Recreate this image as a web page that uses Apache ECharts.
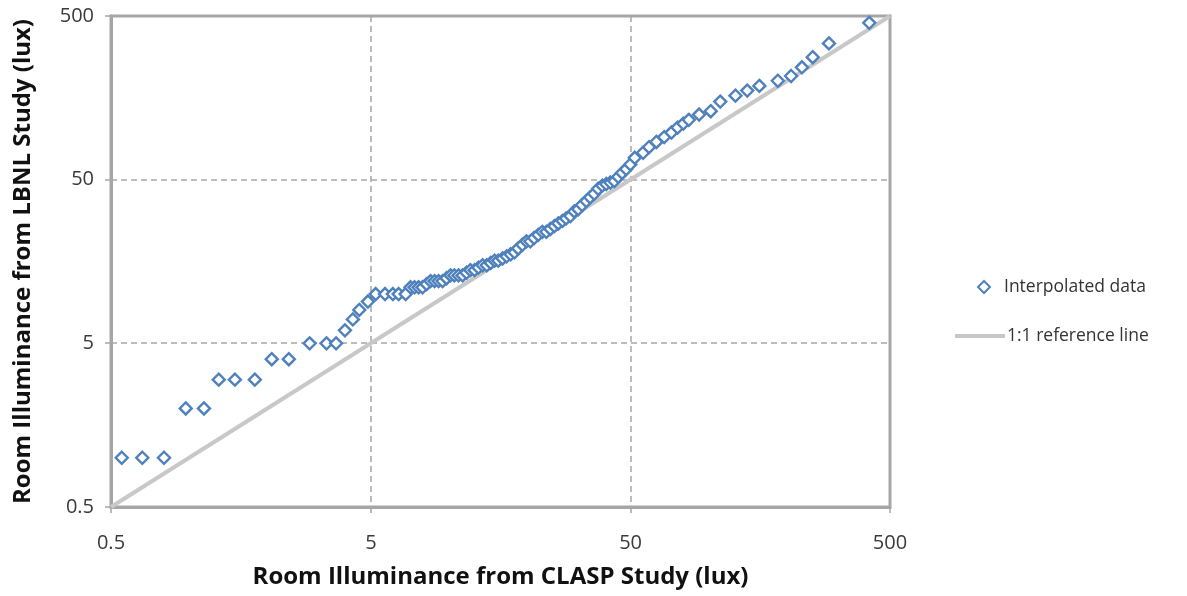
<!DOCTYPE html>
<html>
<head>
<meta charset="utf-8">
<script src="https://cdn.jsdelivr.net/npm/echarts@6/dist/echarts.min.js"></script>
<style>
html,body{margin:0;padding:0;background:#fff;}
#chart{width:1187px;height:596px;}
</style>
</head>
<body>
<div id="chart"></div>
<script>
// CLASP study (x) vs LBNL study (y), room illuminance in lux
const claspLux = [
  0.55,0.66,0.80,0.97,1.14,1.30,1.50,1.79,2.08,2.42,2.91,3.38,3.68,3.98,4.27,4.52,4.88,5.23,5.68,6.09,6.41,6.82,
  7.12,7.38,7.65,7.92,8.21,8.50,8.81,9.13,9.46,9.80,10.15,10.5,10.9,11.3,11.7,12.1,12.56,13.0,13.5,14.0,14.5,15.0,15.5,16.1,16.7,17.3,17.9,18.5,19.2,19.9,20.6,21.3,22.1,22.9,23.75,24.6,25.5,26.4,27.4,28.3,29.4,30.4,31.5,32.6,33.85,35.0,36.3,37.6,39.0,40.4,41.9,43.4,44.9,46.5,48.2,
  50,52,56,59,63,67.5,72,76,80,84,92,102,111,127,141,157,185,208,229,252,291,416
];
const lbnlLux = [
  1,1,1,2,2,3,3,3,4,4,5,5,5,6,7,8,9,10,10,10,10,10,
  11,11,11,11,11.5,12,12,12,12,12.5,13,13,13,13,13.5,14,14,14.5,15,15,15.5,16,16,16.5,17,17.5,18,19,20,21,21,22,23,24,24,25,26,27,28,29,30,32,33,35,37,39,41,44,46,47,48,49,52,55,58,
  62,68,73,79,85,91,97,104,110,116,125,131,150,163,175,187,201,215,243,280,340,454
];
const referenceLine = [0.5, 500];
const axisTicks = [0.5, 5, 50, 500];

const scatterData = claspLux.map((x, i) => [x, lbnlLux[i]]);
const refData = referenceLine.map(v => [v, v]);

const FONT = '"Open Sans", "Noto Sans", sans-serif';
const chart = echarts.init(document.getElementById('chart'), null, {renderer: 'canvas'});

function fmt(v) {
  return v >= 1 ? String(Math.round(v)) : String(Math.round(v * 10) / 10);
}

function axisCommon(name, isX) {
  return {
    type: 'log',
    logBase: 10,
    min: axisTicks[0],
    max: axisTicks[axisTicks.length - 1],
    interval: 1,
    name: name,
    nameLocation: 'middle',
    nameGap: isX ? 58 : 76,
    nameTextStyle: {fontFamily: FONT, fontSize: 24, fontWeight: 'bold', color: '#111'},
    axisLine: {show: true, lineStyle: {color: '#a6a6a6', width: 3}},
    axisTick: {show: true, length: 6, lineStyle: {color: '#a6a6a6', width: 1.5}},
    axisLabel: {
      fontFamily: FONT, fontSize: 20, color: '#3a3a3a',
      margin: isX ? 26 : 17,
      formatter: fmt
    },
    splitLine: {show: true, lineStyle: {color: '#a6a6a6', width: 1.5, type: [6, 4]}}
  };
}

chart.setOption({
  backgroundColor: '#fff',
  animation: false,
  grid: {left: 111, right: 297, top: 16, bottom: 89, show: true, borderColor: '#a6a6a6', borderWidth: 3},
  xAxis: axisCommon('Room Illuminance from CLASP Study (lux)', true),
  yAxis: axisCommon('Room Illuminance from LBNL Study (lux)', false),
  legend: [
    {
      data: [{name: 'Interpolated data', icon: 'diamond'}],
      left: 972, top: 273, itemWidth: 12, itemHeight: 12,
      textStyle: {fontFamily: FONT, fontSize: 17.5, color: '#333', padding: [3, 0, 0, 9]}
    },
    {
      data: [{name: '1:1 reference line', icon: 'rect'}],
      left: 950, top: 322, itemWidth: 50, itemHeight: 4,
      textStyle: {fontFamily: FONT, fontSize: 17.5, color: '#333', padding: [0, 0, 0, -3]}
    }
  ],
  series: [
    {
      name: '1:1 reference line',
      type: 'line',
      data: refData,
      symbol: 'none',
      lineStyle: {color: '#c8c8c8', width: 4},
      itemStyle: {color: '#c8c8c8'},
      z: 1
    },
    {
      name: 'Interpolated data',
      type: 'scatter',
      data: scatterData,
      symbol: 'diamond',
      symbolSize: [12, 12],
      itemStyle: {color: '#ffffff', borderColor: '#4f81bd', borderWidth: 2.4, opacity: 1},
      z: 2
    }
  ]
});
</script>
</body>
</html>
